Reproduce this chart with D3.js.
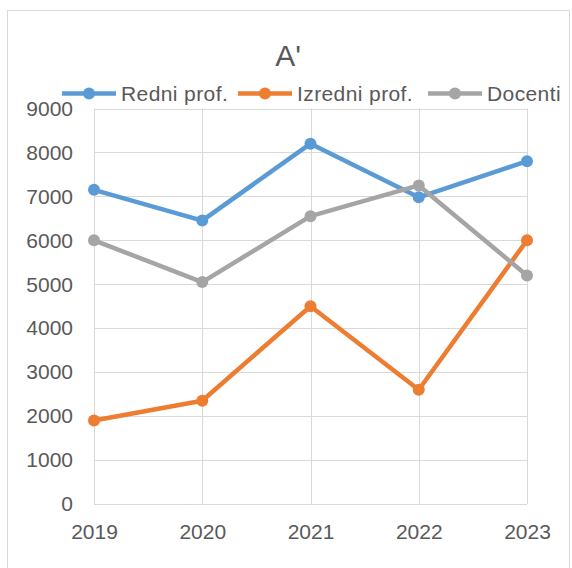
<!DOCTYPE html>
<meta charset="utf-8">
<style>
  body { margin: 0; background: #fff; }
  text { font-family: "Liberation Sans", Arial, sans-serif; fill: #595959; }
</style>
<script src="https://d3js.org/d3.v7.min.js"></script>
<body>
<script>

// DATA

var years = ["2019", "2020", "2021", "2022", "2023"];
var seriesNames = ["Redni prof.", "Izredni prof.", "Docenti"];
var redni = [7150, 6450, 8200, 6980, 7800];
var izredni = [1900, 2350, 4500, 2600, 6000];
var docenti = [6000, 5050, 6550, 7250, 5200];
var yTicks = [0, 1000, 2000, 3000, 4000, 5000, 6000, 7000, 8000, 9000];
var colors = ["#5b9bd5", "#ed7d31", "#a5a5a5"];

var series = [redni, izredni, docenti].map(function (v, i) {
  return { name: seriesNames[i], color: colors[i], values: v };
});

var width = 572;
var height = 568;
var margin = { top: 108.5, left: 94, right: 45, bottom: 64 };


// SVG SETUP

var svg = d3.select("body")
  .append("svg")
  .attr("width", width)
  .attr("height", height);

// chart frame
svg.append("rect")
  .attr("x", 7.5)
  .attr("y", 10.5)
  .attr("width", 562)
  .attr("height", 570)
  .attr("fill", "#fff")
  .attr("stroke", "#d9d9d9");


// SCALES

var x = d3.scalePoint()
  .domain(years)
  .range([margin.left, width - margin.right]);

var y = d3.scaleLinear()
  .domain([0, 9000])
  .range([height - margin.bottom, margin.top]);


// GRID

svg.append("g")
  .selectAll("line.h")
  .data(yTicks)
  .enter().append("line")
    .attr("x1", x.range()[0])
    .attr("x2", x.range()[1])
    .attr("y1", function (d) { return Math.round(y(d)) + 0.5; })
    .attr("y2", function (d) { return Math.round(y(d)) + 0.5; })
    .attr("stroke", "#d9d9d9");

svg.append("g")
  .selectAll("line.v")
  .data(years)
  .enter().append("line")
    .attr("x1", function (d) { return Math.round(x(d)) + 0.5; })
    .attr("x2", function (d) { return Math.round(x(d)) + 0.5; })
    .attr("y1", y(9000))
    .attr("y2", y(0))
    .attr("stroke", "#d9d9d9");


// AXES (labels only, like Excel)

var yAxis = svg.append("g")
  .attr("transform", "translate(" + (margin.left - 21) + ",0)")
  .call(d3.axisLeft(y).tickValues(yTicks).tickFormat(d3.format("d")).tickSize(0).tickPadding(0));
yAxis.select(".domain").remove();
yAxis.selectAll("text")
  .style("font-size", "21px")
  .style("fill", "#595959")
  .style("font-family", "Liberation Sans, Arial, sans-serif");

var xAxis = svg.append("g")
  .attr("transform", "translate(0," + (height - margin.bottom) + ")")
  .call(d3.axisBottom(x).tickSize(0).tickPadding(20));
xAxis.select(".domain").remove();
xAxis.selectAll("text")
  .style("font-size", "21px")
  .style("fill", "#595959")
  .style("font-family", "Liberation Sans, Arial, sans-serif");


// LINES

var line = d3.line()
  .x(function (d, i) { return x(years[i]); })
  .y(function (d) { return y(d); });

series.forEach(function (s) {
  svg.append("path")
    .datum(s.values)
    .attr("fill", "none")
    .attr("stroke", s.color)
    .attr("stroke-width", 4.5)
    .attr("stroke-linejoin", "round")
    .attr("d", line);

  svg.append("g")
    .selectAll("circle")
    .data(s.values)
    .enter().append("circle")
      .attr("cx", function (d, i) { return x(years[i]); })
      .attr("cy", function (d) { return y(d); })
      .attr("r", 6)
      .attr("fill", s.color);
});


// LEGEND

var legendX = [62, 238, 428];
var legend = svg.append("g")
  .selectAll("g")
  .data(series)
  .enter().append("g")
    .attr("transform", function (d, i) { return "translate(" + legendX[i] + ",93.5)"; });

legend.append("line")
  .attr("x1", 0)
  .attr("x2", 54)
  .attr("stroke", function (d) { return d.color; })
  .attr("stroke-width", 4.5);

legend.append("circle")
  .attr("cx", 27)
  .attr("r", 6)
  .attr("fill", function (d) { return d.color; });

legend.append("text")
  .attr("x", 59)
  .attr("dy", "0.35em")
  .style("font-size", "21px")
  .style("letter-spacing", "0.4px")
  .text(function (d) { return d.name; });


// TITLE

svg.append("text")
  .attr("x", 288)
  .attr("y", 66)
  .attr("text-anchor", "middle")
  .style("font-size", "30px")
  .text("A'");

</script>
</body>
